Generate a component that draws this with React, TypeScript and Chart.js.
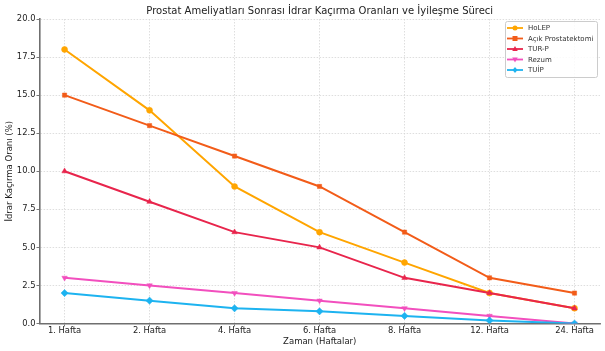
import React, { useEffect, useRef } from "react";
import { Chart, registerables } from "chart.js";

Chart.register(...registerables);

const TITLE = "Prostat Ameliyatları Sonrası İdrar Kaçırma Oranları ve İyileşme Süreci";
const X_TITLE = "Zaman (Haftalar)";
const Y_TITLE = "İdrar Kaçırma Oranı (%)";

const weeks = ["1. Hafta", "2. Hafta", "4. Hafta", "6. Hafta", "8. Hafta", "12. Hafta", "24. Hafta"];

const holep = [18, 14, 9, 6, 4, 2, 1];
const acikProstatektomi = [15, 13, 11, 9, 6, 3, 2];
const turp = [10, 8, 6, 5, 3, 2, 1];
const rezum = [3, 2.5, 2, 1.5, 1, 0.5, 0];
const tuip = [2, 1.5, 1, 0.8, 0.5, 0.2, 0];

const seriesNames = ["HoLEP", "Açık Prostatektomi", "TUR-P", "Rezum", "TUİP"];
const seriesValues = [holep, acikProstatektomi, turp, rezum, tuip];
const seriesColors = ["#FFA500", "#F25C19", "#E8254C", "#F24FBE", "#1DB3F0"];
const seriesMarkers = ["circle", "rect", "triangle", "triangle", "rectRot"];
const seriesRotation = [0, 0, 0, 180, 0];
const seriesRadius = [3, 3, 3.2, 3.2, 3.6];

const FONT = "'DejaVu Sans', sans-serif";

function drawMarker(ctx: CanvasRenderingContext2D, style: string, rot: number, r: number, x: number, y: number, color: string) {
  ctx.save();
  ctx.fillStyle = color;
  ctx.translate(x, y);
  ctx.rotate((rot * Math.PI) / 180);
  ctx.beginPath();
  if (style === "circle") {
    ctx.arc(0, 0, r, 0, Math.PI * 2);
  } else if (style === "rect") {
    ctx.rect(-r, -r, 2 * r, 2 * r);
  } else if (style === "triangle") {
    ctx.moveTo(0, -r * 1.2);
    ctx.lineTo(r * 1.1, r * 0.8);
    ctx.lineTo(-r * 1.1, r * 0.8);
    ctx.closePath();
  } else {
    ctx.moveTo(0, -r * 1.2);
    ctx.lineTo(r * 1.0, 0);
    ctx.lineTo(0, r * 1.2);
    ctx.lineTo(-r * 1.0, 0);
    ctx.closePath();
  }
  ctx.fill();
  ctx.restore();
}

const overlayPlugin = {
  id: "overlay",
  afterDraw(chart: any) {
    const ctx = chart.ctx;
    const area = chart.chartArea;
    ctx.save();
    ctx.fillStyle = "#222";
    ctx.font = `10px ${FONT}`;
    ctx.textAlign = "center";
    ctx.textBaseline = "middle";
    ctx.fillText(TITLE, (area.left + area.right) / 2, 11);

    const bx = 505.5, by = 21.5, bw = 92, bh = 56;
    ctx.fillStyle = "rgba(255,255,255,0.85)";
    ctx.strokeStyle = "#cccccc";
    ctx.lineWidth = 1;
    ctx.beginPath();
    if ((ctx as any).roundRect) (ctx as any).roundRect(bx, by, bw, bh, 2);
    else ctx.rect(bx, by, bw, bh);
    ctx.fill();
    ctx.stroke();
    ctx.font = `7px ${FONT}`;
    ctx.textAlign = "left";
    ctx.textBaseline = "middle";
    seriesNames.forEach((name, i) => {
      const y = 28 + i * 10.5;
      ctx.strokeStyle = seriesColors[i];
      ctx.lineWidth = 1.8;
      ctx.beginPath();
      ctx.moveTo(507, y);
      ctx.lineTo(523, y);
      ctx.stroke();
      drawMarker(ctx, seriesMarkers[i], seriesRotation[i], 2.5, 515, y, seriesColors[i]);
      ctx.fillStyle = "#333";
      ctx.fillText(name, 528, y + 0.5);
    });
    ctx.restore();
  },
};

export default function App() {
  const ref = useRef<HTMLCanvasElement | null>(null);

  useEffect(() => {
    if (!ref.current) return;
    const datasets = seriesNames.map((name, i) => ({
      label: name,
      data: seriesValues[i].map((v, j) => ({ x: j, y: v })),
      borderColor: seriesColors[i],
      backgroundColor: seriesColors[i],
      borderWidth: 2,
      pointStyle: seriesMarkers[i] as any,
      pointRotation: seriesRotation[i],
      pointRadius: seriesRadius[i],
      pointBorderWidth: 0.5,
      tension: 0,
      order: seriesNames.length - i,
    }));

    const chart = new Chart(ref.current, {
      type: "line",
      data: { datasets },
      plugins: [overlayPlugin],
      options: {
        animation: false,
        responsive: false,
        maintainAspectRatio: false,
        layout: { padding: { top: 19, right: 5, left: 0, bottom: 0 } },
        plugins: {
          legend: { display: false },
          title: { display: false },
          tooltip: { enabled: false },
        },
        scales: {
          x: {
            type: "linear",
            min: -0.295,
            max: 6.3,
            afterBuildTicks: (scale: any) => {
              scale.ticks = weeks.map((_, i) => ({ value: i }));
            },
            afterFit: (scale: any) => {
              scale.height = 27.5;
            },
            ticks: {
              autoSkip: false,
              maxRotation: 0,
              padding: -1,
              color: "#222",
              font: { family: FONT, size: 8.4 },
              callback: (v: any) => weeks[Math.round(Number(v))] ?? "",
            },
            grid: {
              color: "#d6d6d6",
              lineWidth: 0.8,
              tickLength: 3,
              tickColor: "#555",
              tickWidth: 0.8,
            },
            border: { display: true, color: "#6f6f6f", width: 1.6, dash: [1.5, 1.5] },
            title: {
              display: true,
              text: X_TITLE,
              color: "#222",
              font: { family: FONT, size: 8.5 },
              padding: { top: 0, bottom: 4 },
            },
          },
          y: {
            type: "linear",
            min: 0,
            max: 20,
            afterFit: (scale: any) => {
              scale.width = 39.5;
            },
            ticks: {
              stepSize: 2.5,
              padding: 1,
              color: "#222",
              font: { family: FONT, size: 8.4 },
              callback: (v: any) => Number(v).toFixed(1),
            },
            grid: {
              color: "#d6d6d6",
              lineWidth: 0.8,
              tickLength: 3,
              tickColor: "#555",
              tickWidth: 0.8,
            },
            border: { display: true, color: "#6f6f6f", width: 1.6, dash: [1.5, 1.5] },
            title: {
              display: true,
              text: Y_TITLE,
              color: "#222",
              font: { family: FONT, size: 8.5 },
              padding: { top: 5, bottom: 0 },
            },
          },
        },
      },
    });
    return () => chart.destroy();
  }, []);

  return (
    <div style={{ position: "fixed", left: 0, top: 0, width: 605, height: 351, background: "#fff" }}>
      <canvas ref={ref} width={605} height={351} style={{ width: 605, height: 351 }} />
    </div>
  );
}
